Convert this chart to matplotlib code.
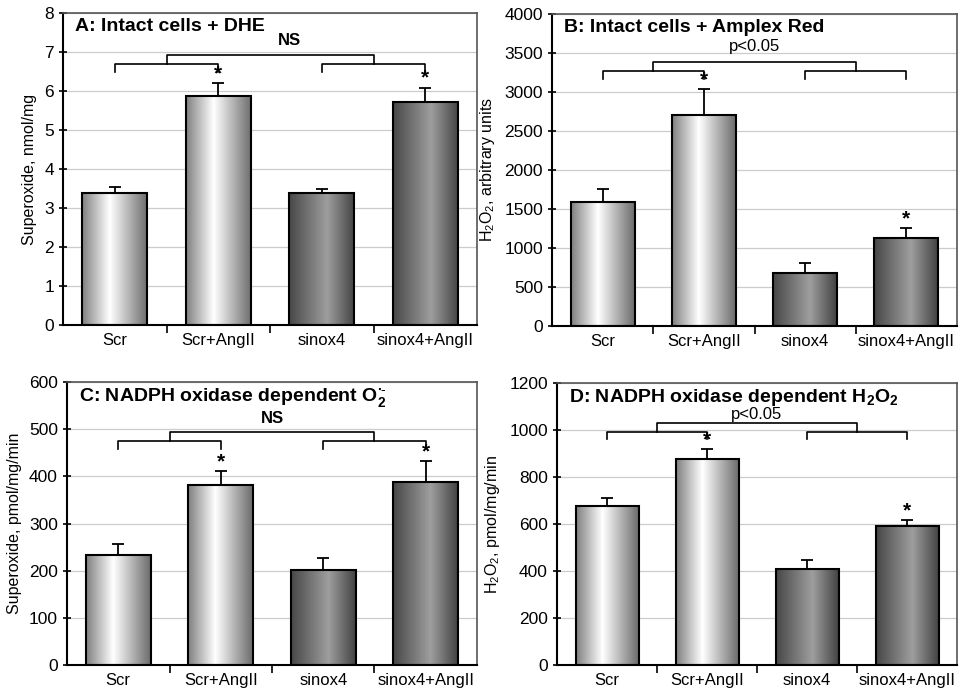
import numpy as np
import matplotlib
matplotlib.use("Agg")
import matplotlib.pyplot as plt

plt.rcParams['font.family'] = ['Liberation Sans', 'DejaVu Sans']
plt.rcParams['mathtext.fontset'] = 'custom'
plt.rcParams['mathtext.rm'] = 'Liberation Sans'
plt.rcParams['mathtext.bf'] = 'Liberation Sans:bold'

groups = ['Scr', 'Scr+AngII', 'sinox4', 'sinox4+AngII']

# panel values (mean, upper error)
dhe_mean = [3.38, 5.87, 3.38, 5.73]
dhe_err = [0.16, 0.33, 0.10, 0.35]
amplex_mean = [1590, 2705, 680, 1130]
amplex_err = [166, 330, 128, 126]
o2_mean = [233, 382, 201, 388]
o2_err = [23, 29, 26, 44]
h2o2_mean = [677, 877, 408, 592]
h2o2_err = [34, 42, 39, 25]

starred = [False, True, False, True]

# bracket levels: lower bracket, tick end, upper bracket, label x, label y
panels = [
    dict(mean=dhe_mean, err=dhe_err, ylim=8, step=1,
         ylabel='Superoxide, nmol/mg',
         title='A: Intact cells + DHE',
         br=(6.69, 6.49, 6.92, 1.69, 7.3), lab='NS', labw='bold',
         pos=[63, 13, 477, 325]),
    dict(mean=amplex_mean, err=amplex_err, ylim=4000, step=500,
         ylabel=r'H$_2$O$_2$, arbitrary units',
         title='B: Intact cells + Amplex Red',
         br=(3270, 3167, 3385, 1.5, 3580), lab='p<0.05', labw='normal',
         pos=[552, 14, 957, 326]),
    dict(mean=o2_mean, err=o2_err, ylim=600, step=100,
         ylabel='Superoxide, pmol/mg/min',
         title=r'C: NADPH oxidase dependent O$_\mathbf{2}^{\mathbf{\bullet}\text{-}}$',
         br=(475, 458, 494, 1.5, 522), lab='NS', labw='bold',
         pos=[67, 382, 477, 665]),
    dict(mean=h2o2_mean, err=h2o2_err, ylim=1200, step=200,
         ylabel=r'H$_2$O$_2$, pmol/mg/min',
         title=r'D: NADPH oxidase dependent H$_\mathbf{2}$O$_\mathbf{2}$',
         br=(991, 962, 1030, 1.5, 1064), lab='p<0.05', labw='normal',
         pos=[557, 383, 957, 665]),
]

W, H = 960, 696
fig = plt.figure(figsize=(9.6, 6.96), dpi=100)

u = np.linspace(0, 1, 200)
light = np.interp(u, [0, 0.42, 1], [0.50, 1.0, 0.42])
dark = np.interp(u, [0, 0.58, 1], [0.28, 0.62, 0.26])
width = 0.63
x = np.arange(len(groups))

for p in panels:
    l, t, r, b = p['pos']
    ax = fig.add_axes([l / W, 1 - b / H, (r - l) / W, (b - t) / H])
    ax.set_xlim(-0.5, 3.5)
    ax.set_ylim(0, p['ylim'])
    ax.set_yticks(np.arange(0, p['ylim'] + p['step'] / 2, p['step']))
    ax.yaxis.grid(True, color='#cccccc', lw=0.9)
    ax.set_axisbelow(True)

    bars = ax.bar(x, p['mean'], width, facecolor='none', edgecolor='black', lw=1.5, zorder=3)
    for i, bar in enumerate(bars):
        prof = light if i < 2 else dark
        img = np.tile(prof, (2, 1))
        im = ax.imshow(img, cmap='gray', vmin=0, vmax=1, aspect='auto',
                       extent=[x[i] - width / 2, x[i] + width / 2, 0, p['mean'][i]],
                       zorder=2, interpolation='bilinear')
        im.set_clip_path(bar)
    ax.errorbar(x, p['mean'], yerr=[np.zeros(4), p['err']], fmt='none',
                ecolor='black', elinewidth=1.3, capsize=4, capthick=1.3, zorder=4)
    for i in range(4):
        if starred[i]:
            ax.text(x[i], p['mean'][i] + p['err'][i], '*', ha='center', va='bottom',
                    fontsize=15, fontweight='bold')

    lo, tip, hi, lx, ly = p['br']
    for a, c in [(0, 1), (2, 3)]:
        ax.plot([a, a, c, c], [tip, lo, lo, tip], color='black', lw=1.2, zorder=5)
    m1, m2 = 0.5, 2.5
    ax.plot([m1, m1, m2, m2], [lo, hi, hi, lo], color='black', lw=1.2, zorder=5)
    ax.text(lx, ly, p['lab'], ha='center', va='center', fontsize=12, fontweight=p['labw'])

    ax.text(0.03, 0.985, p['title'], transform=ax.transAxes, ha='left', va='top',
            fontsize=14, fontweight='bold')

    ax.set_xticks([0.5, 1.5, 2.5], minor=False)
    ax.set_xticks(x, minor=True)
    ax.set_xticklabels([])
    ax.set_xticklabels(groups, minor=True, fontsize=12)
    ax.tick_params(axis='x', which='major', length=6, width=1.2, direction='out')
    ax.tick_params(axis='x', which='minor', length=0, pad=6)
    ax.tick_params(axis='y', length=6, width=1.2, direction='inout', labelsize=12.5)
    ax.set_ylabel(p['ylabel'], fontsize=11.5, labelpad=5)
    for s in ['left', 'bottom']:
        ax.spines[s].set_linewidth(1.5)
    for s in ['top', 'right']:
        ax.spines[s].set_color('#555555')
        ax.spines[s].set_linewidth(1.2)

fig.savefig('out.png', dpi=100)
